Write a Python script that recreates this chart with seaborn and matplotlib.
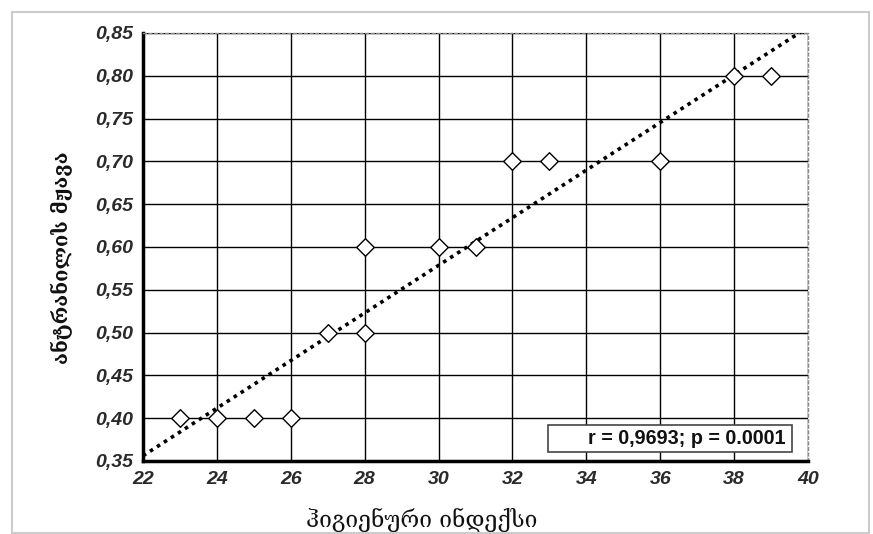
import numpy as np
import pandas as pd
import matplotlib
matplotlib.use("Agg")
import matplotlib.pyplot as plt
import matplotlib.patches as mpatches
import seaborn as sns

# data
hygiene_index = [23, 24, 25, 26, 27, 28, 28, 30, 31, 32, 33, 36, 38, 39]
anthranilic_acid = [0.40, 0.40, 0.40, 0.40, 0.50, 0.50, 0.60, 0.60, 0.60, 0.70, 0.70, 0.70, 0.80, 0.80]
x_ticks = [22, 24, 26, 28, 30, 32, 34, 36, 38, 40]
y_ticks = [0.35, 0.40, 0.45, 0.50, 0.55, 0.60, 0.65, 0.70, 0.75, 0.80, 0.85]
x_label = "ჰიგიენური ინდექსი"
y_label = "ანტრანილის მჟავა"
stat_text = "r = 0,9693; p = 0.0001"

df = pd.DataFrame({"x": hygiene_index, "y": anthranilic_acid})

sns.set_theme(style="white")
plt.rcParams['font.family'] = ['Liberation Sans', 'DejaVu Sans']

fig = plt.figure(figsize=(8.73, 5.34), dpi=100)
W, H = 873, 534
AX_L, AX_R, AX_T, AX_B = 143, 808, 33, 461
ax = fig.add_axes([AX_L / W, 1 - AX_B / H, (AX_R - AX_L) / W, (AX_B - AX_T) / H])

def fx(px):
    return (px - AX_L) / (AX_R - AX_L)

def fy(py):
    return (AX_B - py) / (AX_B - AX_T)

ax.set_xlim(22, 40)
ax.set_ylim(0.35, 0.85)
ax.set_xticks(x_ticks)
ax.set_yticks(y_ticks)
ax.grid(True, color="black", linewidth=1.0, zorder=0)
ax.set_axisbelow(True)

sns.regplot(data=df, x="x", y="y", ax=ax, scatter=False, ci=None, truncate=False,
            line_kws=dict(color="black", linestyle=(0, (1, 1.3)), linewidth=2.6, zorder=3))
sns.scatterplot(data=df, x="x", y="y", ax=ax, marker="D", s=80, color="white",
                edgecolor="black", linewidth=1.0, zorder=4)

ax.set_xlim(22, 40)
ax.set_ylim(0.35, 0.85)

tick_font = dict(fontsize=14, fontweight="bold", fontstyle="italic", color="#2a2a2a")
ax.set_xticklabels([str(t) for t in x_ticks], **tick_font)
ax.set_yticklabels([f"{t:.2f}".replace(".", ",") for t in y_ticks], **tick_font)
ax.tick_params(axis="both", direction="out", length=4, width=1.5, color="black", pad=3)

for s in ["left", "bottom"]:
    ax.spines[s].set_linewidth(2.5)
    ax.spines[s].set_color("black")
for s in ["top", "right"]:
    ax.spines[s].set_linewidth(1.0)
    ax.spines[s].set_color("#888888")
    ax.spines[s].set_linestyle((0, (2, 2)))

ax.set_xlabel(x_label, fontsize=16.5, family=["DejaVu Serif", "DejaVu Sans"], color="#111111")
ax.set_ylabel(y_label, fontsize=14.5, family=["DejaVu Serif", "DejaVu Sans"], color="#111111",
              fontweight="bold")
ax.xaxis.set_label_coords(fx(422), fy(508))
ax.yaxis.set_label_coords(fx(73), fy(258))

# statistics box
box = mpatches.Rectangle((fx(548), fy(452)), fx(792) - fx(548), fy(425) - fy(452),
                         transform=ax.transAxes, facecolor="white", edgecolor="#444444",
                         linewidth=1.2, zorder=5)
ax.add_patch(box)
ax.text(fx(786), fy(438.5), stat_text, transform=ax.transAxes, ha="right", va="center",
        fontsize=14.2, fontweight="bold", color="#111111", zorder=6)

# outer frame of the picture
frame = mpatches.Rectangle((12 / W, 1 / H), (869 - 12) / W, (521) / H, transform=fig.transFigure,
                           fill=False, edgecolor="#cccccc", linewidth=1.5, zorder=0)
fig.patches.append(frame)

fig.savefig("out.png", dpi=100)
